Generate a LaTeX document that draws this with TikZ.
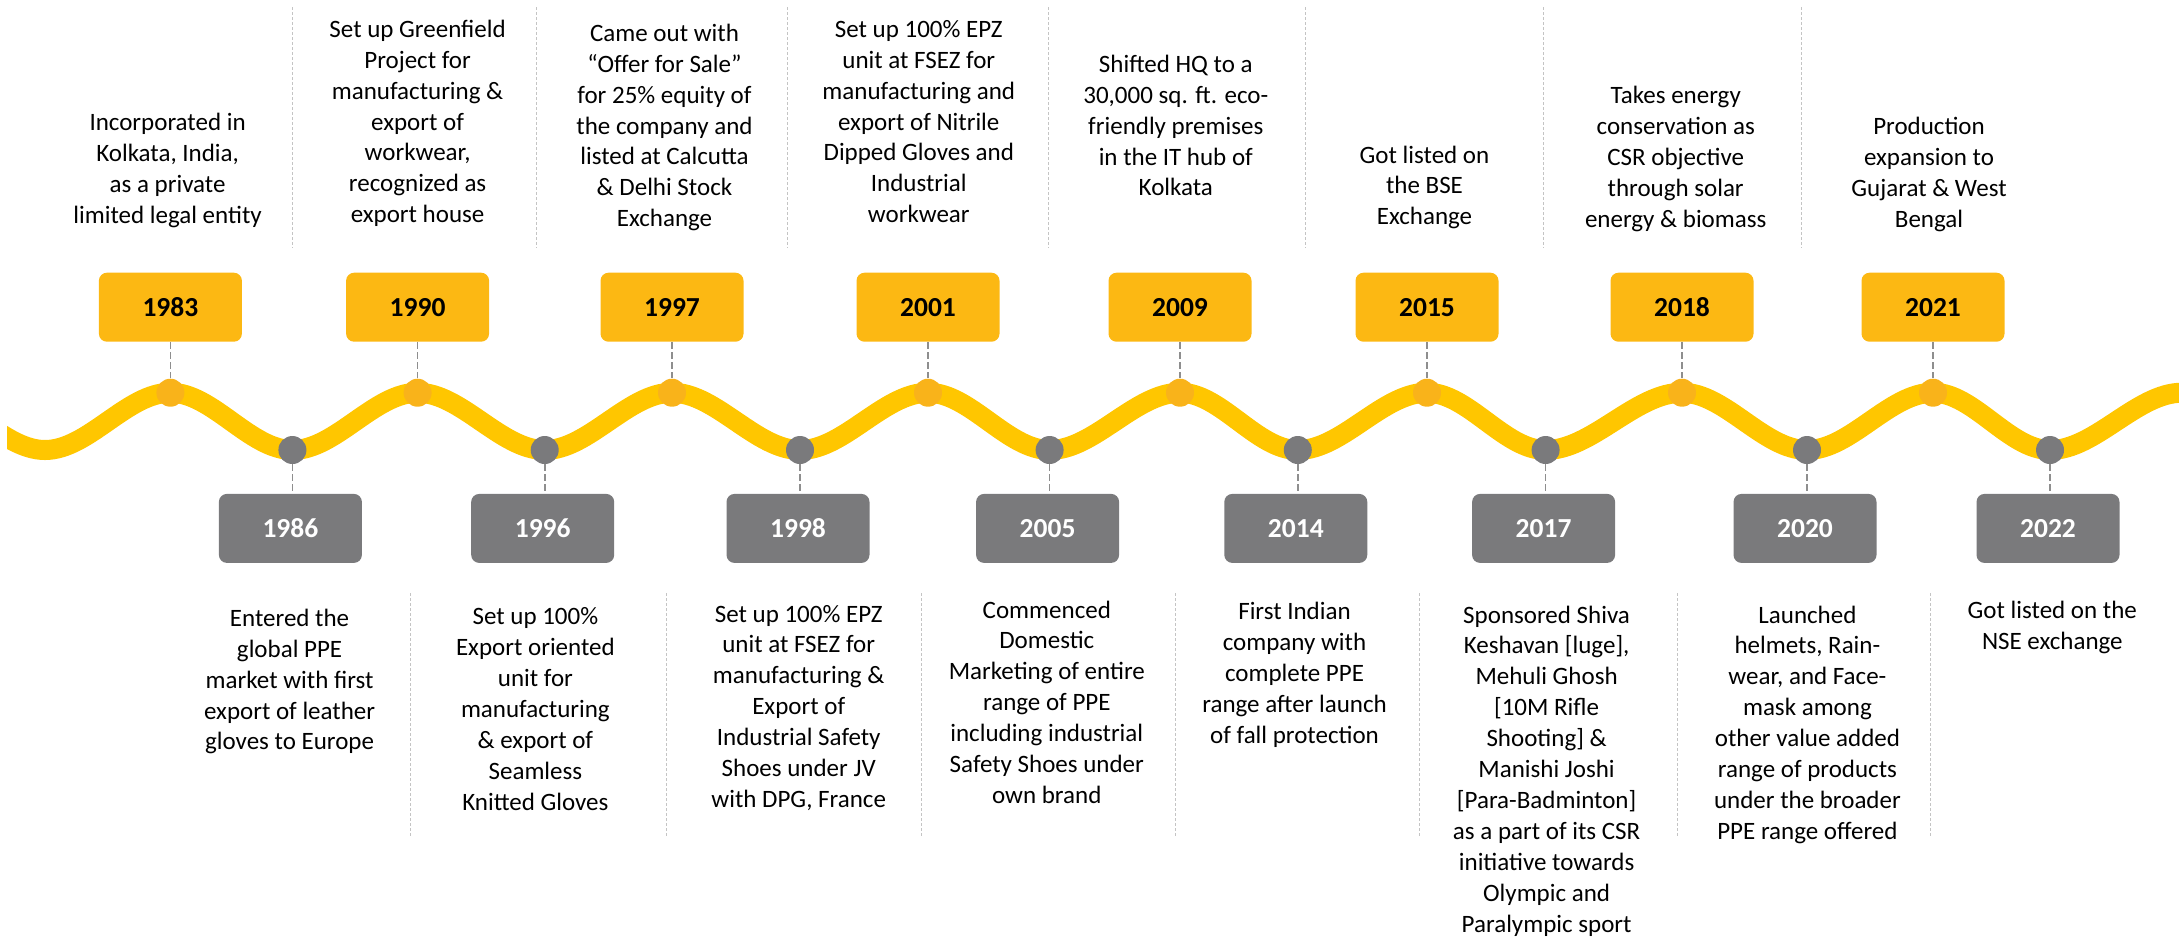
\documentclass[tikz,border=0pt]{standalone}
\usepackage{fontspec}
\setmainfont{Carlito}
\definecolor{boxorange}{HTML}{FCB813}
\definecolor{dotorange}{HTML}{F9B31A}
\definecolor{waveyellow}{HTML}{FFC600}
\definecolor{boxgray}{HTML}{7A7A7C}
\definecolor{conngray}{HTML}{8E8E8E}
\definecolor{sepgray}{HTML}{C4C4C4}
\begin{document}
\begin{tikzpicture}[x=0.5pt,y=-0.5pt,
  txt/.style={anchor=north, inner sep=0pt, align=center, font=\fontsize{12.5}{15.45}\selectfont, text=black},
  yearbox/.style={rounded corners=4pt, minimum width=71.5pt, minimum height=34.5pt, inner sep=0pt, font=\fontsize{13.75}{16}\selectfont\bfseries},
  topbox/.style={yearbox, fill=boxorange, text=black},
  botbox/.style={yearbox, fill=boxgray, text=white},
  odot/.style={circle, fill=dotorange, minimum size=14pt, inner sep=0pt},
  gdot/.style={circle, fill=boxgray, minimum size=14pt, inner sep=0pt},
  conn/.style={draw=conngray, line width=0.85pt, dash pattern=on 3.5pt off 1.5pt},
  sepline/.style={draw=sepgray, line width=0.5pt, dash pattern=on 1.5pt off 1pt},
  wave/.style={draw=waveyellow, line width=10pt},
  wv/.style={out=0, in=180, looseness=0.8}
]
\useasboundingbox (0,0) rectangle (2179,939);

% separators
\foreach \sx in {292,536,787,1048,1305,1543,1801} {\draw[sepline] (\sx,7) -- (\sx,248);}
\foreach \sx in {410,666,921.6,1175,1419,1677,1930} {\draw[sepline] (\sx,593) -- (\sx,836);}

% wave
\begin{scope}
\clip (7,0) rectangle (2179,939);
\draw[wave] (-80,392.7) to[wv] (45,450) to[wv] (170.4,392.7) to[wv] (292.4,450)
  to[wv] (417.6,392.7) to[wv] (544.7,450) to[wv] (672,392.7) to[wv] (800,450)
  to[wv] (928,392.7) to[wv] (1049.6,450) to[wv] (1180,392.7) to[wv] (1297.8,450)
  to[wv] (1427,392.7) to[wv] (1545.6,450) to[wv] (1682,392.7) to[wv] (1807,450)
  to[wv] (1933,392.7) to[wv] (2050,450) to[wv] (2182,392.7) to[wv] (2305,450);
\end{scope}

% top row: boxes, dots
\foreach \yr/\px in {1983/170.4,1990/417.6,1997/672,2001/928,2009/1180,2015/1427,2018/1682,2021/1933} {
  \node[topbox] (y\yr) at (\px,307.2) {\yr};
  \node[odot] (d\yr) at (\px,392.7) {};
  \draw[conn] (y\yr.south) -- (d\yr.north);
}
% bottom row
\foreach \yr/\px in {1986/292.4,1996/544.7,1998/800,2005/1049.6,2014/1297.8,2017/1545.6,2020/1807,2022/2050} {
  \node[botbox] (y\yr) at (\px-2,528.4) {\yr};
  \node[gdot] (d\yr) at (\px,450) {};
  \draw[conn] (d\yr.south) -- (d\yr.south |- y\yr.north);
}

% top texts
\node[txt] (t1983) at (167.6,108.7) {\strut Incorporated in\\Kolkata, India,\\as a private\\limited legal entity};
\node[txt] (t1990) at (417.6,15.3) {\strut Set up Greenfield\\Project for\\manufacturing \&\\export of\\workwear,\\recognized as\\export house};
\node[txt] (t1997) at (664.5,19.3) {\strut Came out with\\“Offer for Sale”\\for 25\% equity of\\the company and\\listed at Calcutta\\\& Delhi Stock\\Exchange};
\node[txt] (t2001) at (918.8,15.3) {\strut Set up 100\% EPZ\\unit at FSEZ for\\manufacturing and\\export of Nitrile\\Dipped Gloves and\\Industrial\\workwear};
\node[txt] (t2009) at (1175.8,50.3) {\strut Shifted HQ to a\\30,000 sq. ft. eco-\\friendly premises\\in the IT hub of\\Kolkata};
\node[txt] (t2015) at (1424.5,141) {\strut Got listed on\\the BSE\\Exchange};
\node[txt] (t2018) at (1675.7,81.7) {\strut Takes energy\\conservation as\\CSR objective\\through solar\\energy \& biomass};
\node[txt] (t2021) at (1929,112.7) {\strut Production\\expansion to\\Gujarat \& West\\Bengal};

% bottom texts
\node[txt] (t1986) at (289.6,604.3) {\strut Entered the\\global PPE\\market with first\\export of leather\\gloves to Europe};
\node[txt] (t1996) at (535.4,602.7) {\strut Set up 100\%\\Export oriented\\unit for\\manufacturing\\\& export of\\Seamless\\Knitted Gloves};
\node[txt] (t1998) at (798.7,600) {\strut Set up 100\% EPZ\\unit at FSEZ for\\manufacturing \&\\Export of\\Industrial Safety\\Shoes under JV\\with DPG, France};
\node[txt] (t2005) at (1046.8,596) {\strut Commenced\\Domestic\\Marketing of entire\\range of PPE\\including industrial\\Safety Shoes under\\own brand};
\node[txt] (t2014) at (1294.5,597.7) {\strut First Indian\\company with\\complete PPE\\range after launch\\of fall protection};
\node[txt] (t2017) at (1546.6,601) {\strut Sponsored Shiva\\Keshavan {[}luge{]},\\Mehuli Ghosh\\{[}10M Rifle\\Shooting{]} \&\\Manishi Joshi\\{[}Para-Badminton{]}\\as a part of its CSR\\initiative towards\\Olympic and\\Paralympic sport};
\node[txt] (t2020) at (1807.4,601) {\strut Launched\\helmets, Rain-\\wear, and Face-\\mask among\\other value added\\range of products\\under the broader\\PPE range offered};
\node[txt] (t2022) at (2052.3,596.7) {\strut Got listed on the\\NSE exchange};
\end{tikzpicture}
\end{document}
